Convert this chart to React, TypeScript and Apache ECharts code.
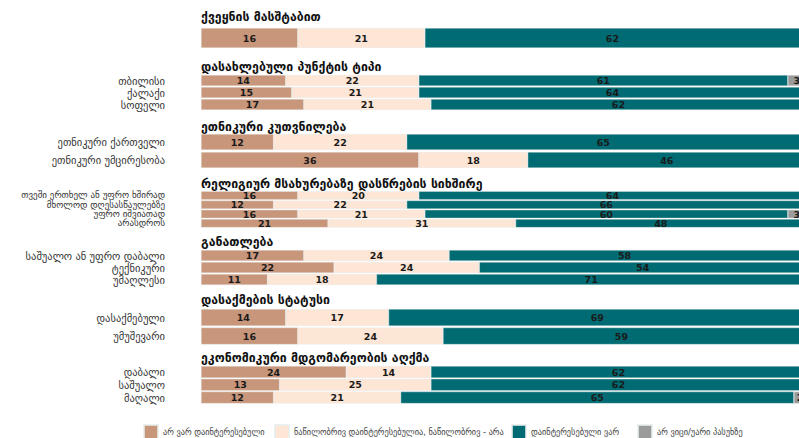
import React, { useEffect, useRef } from 'react';
import * as echarts from 'echarts';

const groupTitles = [
  'ქვეყნის მასშტაბით',
  'დასახლებული პუნქტის ტიპი',
  'ეთნიკური კუთვნილება',
  'რელიგიურ მსახურებაზე დასწრების სიხშირე',
  'განათლება',
  'დასაქმების სტატუსი',
  'ეკონომიკური მდგომარეობის აღქმა',
];
const groupSizes = [1, 3, 2, 4, 3, 2, 3];
const rowLabels = [
  '',
  'თბილისი', 'ქალაქი', 'სოფელი',
  'ეთნიკური ქართველი', 'ეთნიკური უმცირესობა',
  'თვეში ერთხელ ან უფრო ხშირად', 'მხოლოდ დღესასწაულებზე', 'უფრო იშვიათად', 'არასდროს',
  'საშუალო ან უფრო დაბალი', 'ტექნიკური', 'უმაღლესი',
  'დასაქმებული', 'უმუშევარი',
  'დაბალი', 'საშუალო', 'მაღალი',
];
const seriesNames = [
  'არ ვარ დაინტერესებული',
  'ნაწილობრივ დაინტერესებულია, ნაწილობრივ - არა',
  'დაინტერესებული ვარ',
  'არ ვიცი/უარი პასუხზე',
];
const notInterested = [16, 14, 15, 17, 12, 36, 16, 12, 16, 21, 17, 22, 11, 14, 16, 24, 13, 12];
const partlyInterested = [21, 22, 21, 21, 22, 18, 20, 22, 21, 31, 24, 24, 18, 17, 24, 14, 25, 21];
const interested = [62, 61, 64, 62, 65, 46, 64, 66, 60, 48, 58, 54, 71, 69, 59, 62, 62, 65];
const dontKnow = [1, 3, 0, 0, 1, 0, 0, 0, 3, 0, 1, 0, 0, 0, 1, 0, 0, 2];

const seriesValues = [notInterested, partlyInterested, interested, dontKnow];
const colors = ['#c8967a', '#fde6d5', '#006b72', '#9b9b9b'];

// layout (pixels)
const gridLayout = [
  { top: 27, height: 22, bar: 20, font: 10.5 },
  { top: 74.5, height: 36, bar: 11, font: 10.5 },
  { top: 133, height: 36, bar: 16, font: 10.5 },
  { top: 190.8, height: 37.2, bar: 8.5, font: 9 },
  { top: 249.5, height: 36, bar: 11, font: 10.5 },
  { top: 308.3, height: 37, bar: 17, font: 10.5 },
  { top: 365.6, height: 38.4, bar: 12, font: 10.5 },
];
const headerY = [17, 67, 127, 184, 242, 300, 358];
const legendLeft = [143, 274, 511, 637];
const FONT = '"DejaVu Sans", sans-serif';

export default function App() {
  const ref = useRef<HTMLDivElement>(null);
  useEffect(() => {
    if (!ref.current) return;
    const chart = echarts.init(ref.current, null, { renderer: 'svg' });
    const grids: any[] = [];
    const xAxes: any[] = [];
    const yAxes: any[] = [];
    const series: any[] = [];
    let start = 0;
    groupSizes.forEach((n, g) => {
      const L = gridLayout[g];
      grids.push({ left: 201, width: 605, top: L.top, height: L.height, containLabel: false });
      xAxes.push({
        type: 'value', gridIndex: g, min: 0, max: 100, show: false,
      });
      yAxes.push({
        type: 'category', gridIndex: g, inverse: true,
        data: rowLabels.slice(start, start + n),
        axisLine: { show: false }, axisTick: { show: false }, splitLine: { show: false },
        axisLabel: { interval: 0, hideOverlap: false, margin: 36, fontSize: L.font, color: '#333', fontFamily: FONT },
      });
      seriesValues.forEach((vals, s) => {
        series.push({
          type: 'bar', name: seriesNames[s], stack: 'g' + g,
          xAxisIndex: g, yAxisIndex: g,
          barWidth: L.bar,
          data: vals.slice(start, start + n),
          itemStyle: { color: colors[s], borderColor: 'rgba(230,236,236,0.8)', borderWidth: 0.5 },
          label: {
            show: true, position: 'inside', fontSize: 9.5, fontWeight: 'bold',
            color: '#1a1a1a', fontFamily: FONT,
            formatter: (p: any) => (p.value ? String(p.value) : ''),
          },
        });
      });
      start += n;
    });
    chart.setOption({
      animation: false,
      color: colors,
      grid: grids,
      xAxis: xAxes,
      yAxis: yAxes,
      series,
      legend: seriesNames.map((name, i) => ({
        data: [name], left: legendLeft[i], top: 424, padding: 0,
        itemWidth: 14, itemHeight: 14, icon: 'rect', selectedMode: false,
        textStyle: { fontSize: 8.3, color: '#444', fontFamily: FONT },
      })),
      graphic: groupTitles.map((t, i) => ({
        type: 'text', x: 201, y: headerY[i],
        style: { text: t, font: 'bold 12.3px ' + FONT, fill: '#111', verticalAlign: 'middle' },
      })),
    });
    return () => chart.dispose();
  }, []);
  return (
    <div
      ref={ref}
      style={{ position: 'fixed', left: 0, top: 0, width: 820, height: 438, background: '#fff' }}
    />
  );
}
